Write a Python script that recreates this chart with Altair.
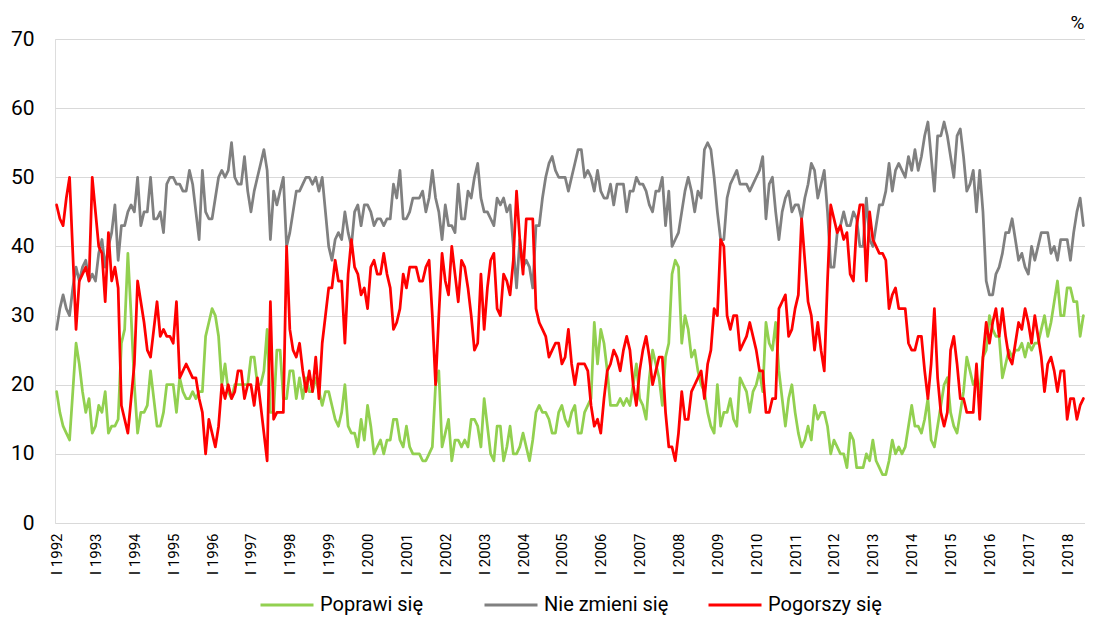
import altair as alt
import pandas as pd

series_names = ["Poprawi się", "Nie zmieni się", "Pogorszy się"]
series_colors = ["#92D050", "#808080", "#FF0000"]

tick_labels = ["I 1992", "I 1993", "I 1994", "I 1995", "I 1996", "I 1997", "I 1998",
               "I 1999", "I 2000", "I 2001", "I 2002", "I 2003", "I 2004", "I 2005",
               "I 2006", "I 2007", "I 2008", "I 2009", "I 2010", "I 2011", "I 2012",
               "I 2013", "I 2014", "I 2015", "I 2016", "I 2017", "I 2018"]
tick_positions = [0, 12, 24, 36, 48, 60, 72, 84, 96, 108, 120, 132, 144, 156, 168,
                  180, 192, 204, 216, 228, 240, 252, 264, 276, 288, 300, 312]
y_ticks = [0, 10, 20, 30, 40, 50, 60, 70]

# monthly values, Jan 1992 - Jun 2018
poprawi = [
    19,16,14,13,12,19,26,23,19,16,18,13,
    14,17,16,19,13,14,14,15,26,28,39,30,
    20,13,16,16,17,22,18,14,14,16,20,20,
    20,16,21,19,18,18,19,18,19,19,27,29,
    31,30,27,20,23,19,18,20,20,20,20,20,
    24,24,20,20,22,28,16,16,25,25,18,18,
    22,22,18,21,18,21,19,19,21,19,17,19,
    19,17,15,14,16,20,14,13,13,11,15,12,
    17,14,10,11,12,10,12,12,15,15,12,11,
    14,11,10,10,10,9,9,10,11,20,22,11,
    13,15,9,12,12,11,12,11,15,15,14,11,
    18,14,10,9,14,14,9,11,14,10,10,11,
    13,11,9,12,16,17,16,16,15,13,13,16,
    17,15,14,16,17,13,13,16,17,18,29,23,
    28,26,22,17,17,17,18,17,18,17,20,23,
    18,17,15,21,25,23,21,17,24,26,36,38,
    37,26,30,28,24,25,22,20,19,16,14,13,
    20,14,16,16,18,15,14,21,20,19,16,19,
    20,22,19,29,26,25,29,22,18,14,18,20,
    16,13,11,12,14,12,17,15,16,16,14,10,
    12,11,10,10,8,13,12,8,8,8,10,9,
    12,9,8,7,7,9,12,10,11,10,11,14,
    17,14,14,13,15,18,12,11,14,17,20,21,
    16,14,13,16,19,24,22,20,21,19,24,25,
    30,28,27,27,21,23,25,24,25,25,26,24,
    26,25,26,26,28,30,27,29,32,35,30,30,
    34,34,32,32,27,30,
]

nie_zmieni = [
    28,31,33,31,30,34,37,35,37,38,35,36,
    35,39,41,37,40,42,46,38,43,43,45,46,
    45,50,43,45,45,50,44,44,45,42,49,50,
    50,49,49,48,48,51,49,45,41,51,45,44,
    44,47,50,51,50,51,55,50,49,49,53,48,
    45,48,50,52,54,51,41,48,46,48,50,40,
    42,45,48,48,49,50,50,49,50,48,50,45,
    40,38,41,42,41,45,42,40,45,46,43,46,
    46,45,43,44,44,43,44,44,49,47,51,44,
    44,45,47,47,47,48,45,47,51,47,45,41,
    46,43,43,42,49,44,44,48,47,50,52,47,
    45,45,44,43,47,46,47,45,46,40,34,41,
    37,38,37,34,43,43,47,50,52,53,51,50,
    50,50,48,50,52,54,54,50,51,50,48,51,
    48,47,47,49,46,49,49,49,45,48,48,50,
    49,49,48,46,45,48,48,50,43,48,40,41,
    42,45,48,50,48,45,48,47,54,55,54,50,
    45,41,41,47,49,50,51,49,49,49,48,49,
    50,51,53,44,49,50,45,41,45,47,48,45,
    46,46,44,47,49,52,51,47,49,51,45,37,
    37,42,43,45,43,43,45,44,40,40,47,41,
    40,43,46,46,48,52,48,51,52,51,50,53,
    51,54,51,53,56,58,53,48,56,56,58,56,
    53,50,56,57,53,48,49,51,45,51,45,35,
    33,33,36,37,39,42,42,44,41,38,39,37,
    36,40,38,40,42,42,42,39,40,38,41,41,
    41,38,42,45,47,43,
]

pogorszy = [
    46,44,43,47,50,39,28,35,36,37,35,50,
    45,40,39,32,42,35,37,34,17,15,13,18,
    23,35,32,29,25,24,28,32,27,28,27,27,
    26,32,21,22,23,22,21,21,18,16,10,15,
    13,11,14,20,18,20,18,19,22,22,18,20,
    20,17,21,17,13,9,32,15,16,16,16,40,
    28,25,24,26,22,19,22,19,24,18,26,30,
    34,34,38,35,35,26,36,41,37,36,33,34,
    31,37,38,36,36,39,36,34,28,29,31,36,
    34,37,37,37,35,35,37,38,30,20,30,39,
    35,33,40,36,32,38,37,34,30,25,26,36,
    28,34,38,39,31,30,36,35,33,38,48,41,
    36,44,44,44,31,29,28,27,24,25,26,26,
    23,24,28,23,20,23,23,23,22,17,14,15,
    13,18,22,23,25,24,22,25,27,25,20,17,
    22,25,27,24,20,22,24,24,16,11,11,9,
    13,19,15,15,19,20,21,22,18,23,25,31,
    30,41,40,30,28,30,30,25,26,27,29,27,
    25,22,22,16,16,18,18,31,32,33,27,28,
    31,33,44,38,32,30,25,29,25,22,35,46,
    44,42,43,41,42,36,35,43,46,46,35,45,
    41,40,39,39,38,31,33,34,31,31,31,26,
    25,25,27,27,22,18,23,31,21,16,14,16,
    25,27,23,18,18,16,16,16,23,15,24,29,
    26,29,31,27,31,27,24,23,26,29,28,31,
    29,26,30,27,24,19,23,24,22,19,22,22,
    15,18,18,15,17,18,
]

values = {series_names[0]: poprawi, series_names[1]: nie_zmieni, series_names[2]: pogorszy}
n = len(poprawi)

rows = []
for name in series_names:
    for i, v in enumerate(values[name]):
        rows.append({"m": i, "v": v, "s": name})
df = pd.DataFrame(rows)

label_array = "[" + ",".join("'" + t + "'" for t in tick_labels) + "]"

x_enc = alt.X(
    "m:Q",
    scale=alt.Scale(domain=[-0.5, n - 0.5], nice=False, zero=False),
    axis=alt.Axis(
        values=tick_positions,
        labelExpr=label_array + "[round(datum.value / 12)]",
        labelAngle=270,
        labelFontSize=15,
        labelPadding=10,
        ticks=False,
        domain=False,
        grid=False,
        title=None,
        labelColor="#000000",
        labelFont="Roboto",
        labelOverlap=False,
    ),
)
y_enc = alt.Y(
    "v:Q",
    scale=alt.Scale(domain=[0, 70], nice=False),
    axis=alt.Axis(
        values=y_ticks,
        grid=True,
        gridColor="#D9D9D9",
        gridWidth=1,
        domain=False,
        ticks=False,
        labelPadding=21,
        labelFontSize=21,
        labelColor="#000000",
        labelFont="Roboto",
        title="%",
        titleAngle=0,
        titleX=1029,
        titleY=-17,
        titleAlign="right",
        titleBaseline="middle",
        titleFontSize=19,
        titleFontWeight="normal",
        titleFont="Roboto",
        titleColor="#000000",
    ),
)
color_enc = alt.Color(
    "s:N",
    scale=alt.Scale(domain=series_names, range=series_colors),
    legend=alt.Legend(
        title=None,
        orient="none",
        legendX=204,
        legendY=538,
        direction="horizontal",
        symbolType="stroke",
        symbolSize=2809,
        symbolStrokeWidth=3,
        labelFontSize=20,
        labelFont="Roboto",
        labelColor="#000000",
        labelOffset=5,
        gridAlign="all",
        columnPadding=33,
        labelLimit=400,
    ),
)

layers = []
for name in series_names:
    layers.append(
        alt.Chart(df)
        .transform_filter(alt.datum.s == name)
        .mark_line(strokeWidth=2.75, strokeJoin="round", strokeCap="round")
        .encode(x=x_enc, y=y_enc, color=color_enc)
    )

chart = (
    alt.layer(*layers)
    .properties(
        width=1030,
        height=484,
        padding={"left": 47, "top": 31, "right": 0, "bottom": 95},
        autosize=alt.AutoSizeParams(type="none"),
    )
    .configure_view(stroke=None)
    .configure(font="Roboto")
)

chart.save("out.html", embed_options={"renderer": "svg", "actions": False})
